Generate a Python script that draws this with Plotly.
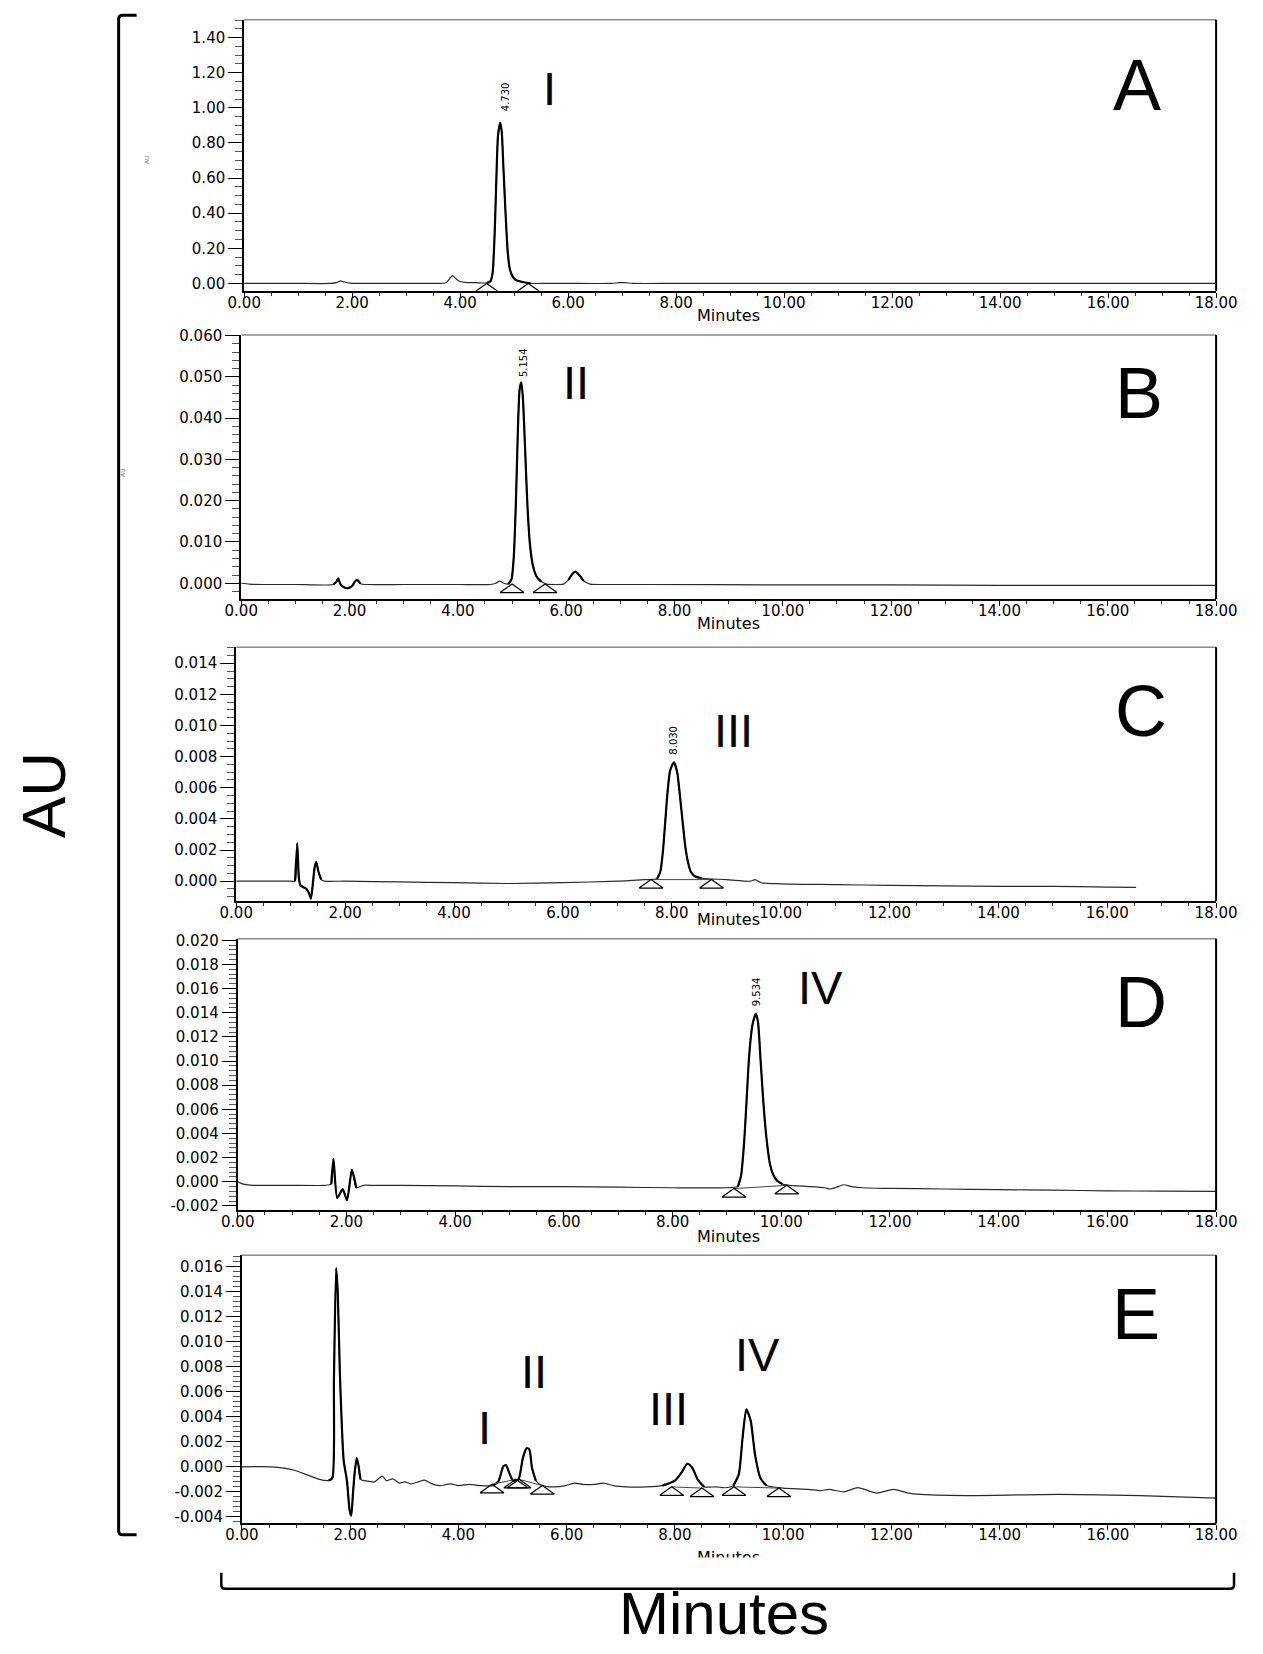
import numpy as np
import plotly.graph_objects as go

W, H = 1263, 1654

# ---------------- data (minutes, AU) ----------------
tA = [0.0, 0.5, 1.0, 1.6, 1.72, 1.78, 1.85, 1.95, 2.1, 2.5, 3.0, 3.5, 3.74, 3.81, 3.86, 3.91, 3.98, 4.08,
      4.3, 4.5, 4.56, 4.60, 4.64, 4.67, 4.70, 4.74, 4.77, 4.80, 4.84, 4.88, 4.92, 4.97, 5.02, 5.10, 5.20,
      5.30, 5.6, 6.0, 6.8, 6.95, 7.05, 7.2, 8.0, 10.0, 12.0, 14.0, 16.0, 18.0]
yA = [0.0, 0.0, 0.0, 0.0, 0.006, 0.014, 0.008, 0.002, 0.0, 0.0, 0.0, 0.0, 0.004, 0.03, 0.044, 0.03, 0.012,
      0.006, 0.004, 0.003, 0.012, 0.06, 0.30, 0.60, 0.84, 0.916, 0.86, 0.66, 0.40, 0.18, 0.08, 0.04, 0.022,
      0.012, 0.005, 0.0, 0.0, 0.0, 0.0, 0.004, 0.004, 0.0, 0.0, 0.0, 0.0, 0.0, 0.0, 0.0]

tB = [0.0, 0.15, 0.4, 1.0, 1.70, 1.76, 1.79, 1.83, 1.90, 1.97, 2.05, 2.10, 2.14, 2.20, 2.3, 3.0, 4.0, 4.6,
      4.70, 4.77, 4.85, 4.93, 4.99, 5.03, 5.07, 5.11, 5.14, 5.17, 5.20, 5.24, 5.28, 5.33, 5.39, 5.46, 5.54,
      5.64, 5.8, 5.95, 6.04, 6.11, 6.17, 6.24, 6.32, 6.44, 6.7, 7.5, 10.0, 12.0, 14.0, 16.0, 18.0]
yB = [0.0000, -0.0002, -0.0003, -0.0003, -0.0003, 0.0004, 0.0012, -0.0002, -0.0010, -0.0012, -0.0006,
      0.0004, 0.0008, -0.0001, -0.0003, -0.0003, -0.0003, -0.0003, 0.0000, 0.0005, 0.0000, -0.0002, 0.0010,
      0.0060, 0.0190, 0.0380, 0.0470, 0.0487, 0.0450, 0.0330, 0.0200, 0.0095, 0.0040, 0.0015, 0.0004,
      -0.0002, -0.0003, -0.0002, 0.0008, 0.0022, 0.0028, 0.0020, 0.0006, -0.0002, -0.0003, -0.0003,
      -0.0004, -0.0004, -0.0005, -0.0005, -0.0005]

tC = [0.0, 0.5, 1.0, 1.08, 1.12, 1.15, 1.18, 1.29, 1.34, 1.37, 1.40, 1.44, 1.47, 1.51, 1.56, 1.62, 2.0,
      3.0, 4.0, 5.0, 6.0, 7.0, 7.5, 7.73, 7.79, 7.84, 7.88, 7.92, 7.97, 8.04, 8.10, 8.15, 8.20, 8.25, 8.30,
      8.35, 8.43, 8.55, 8.68, 9.0, 9.35, 9.45, 9.53, 9.64, 10.0, 11.0, 12.0, 13.0, 14.0, 15.0, 16.0, 16.53]
yC = [0.0, 0.0, 0.0, 0.0, 0.00244, 0.0002, -0.00028, -0.0005, -0.0008, -0.00113, -0.0004, 0.0009,
      0.00122, 0.0006, 0.0001, 0.0, 0.0, -0.00005, -0.0001, -0.00015, -0.0001, 0.0, 0.0001, 0.00015,
      0.0006, 0.0020, 0.0038, 0.0056, 0.0071, 0.00764, 0.0070, 0.0055, 0.0038, 0.0022, 0.0012, 0.0006,
      0.0003, 0.0002, 0.00015, 0.0001, 0.0, 0.0, 0.0001, -0.0001, -0.00017, -0.00022, -0.00027, -0.0003,
      -0.00033, -0.00033, -0.00038, -0.0004]

tD = [0.0, 0.1, 0.3, 1.0, 1.6, 1.72, 1.76, 1.83, 1.93, 2.01, 2.10, 2.18, 2.31, 2.5, 3.0, 4.0, 5.0, 6.0,
      7.0, 8.0, 9.0, 9.20, 9.26, 9.32, 9.36, 9.41, 9.47, 9.53, 9.57, 9.62, 9.67, 9.73, 9.79, 9.85, 9.92,
      10.02, 10.15, 10.5, 10.8, 10.91, 11.05, 11.15, 11.3, 11.5, 12.0, 13.0, 14.0, 15.0, 16.0, 17.0, 18.0]
yD = [0.0, -0.0002, -0.0003, -0.0003, -0.0003, -0.0002, 0.0019, -0.00134, -0.00062, -0.00153, 0.0010,
      -0.0005, -0.0003, -0.0003, -0.0003, -0.00035, -0.0004, -0.0004, -0.00045, -0.0005, -0.0005, -0.0004,
      0.0005, 0.0035, 0.0066, 0.0105, 0.0130, 0.0139, 0.0133, 0.0100, 0.0066, 0.0035, 0.0015, 0.0006,
      0.0001, -0.0002, -0.0003, -0.0004, -0.0005, -0.0006, -0.0004, -0.00025, -0.0004, -0.0005, -0.00055,
      -0.0006, -0.00065, -0.0007, -0.00075, -0.00078, -0.0008]

tE = [0.0, 0.54, 0.97, 1.18, 1.43, 1.60, 1.67, 1.70, 1.74, 1.77, 1.81, 1.88, 1.94, 1.99, 2.02, 2.05, 2.08,
      2.12, 2.15, 2.19, 2.31, 2.45, 2.59, 2.67, 2.79, 2.91, 3.01, 3.12, 3.26, 3.37, 3.51, 3.65, 3.86, 4.0,
      4.21, 4.42, 4.64, 4.74, 4.83, 4.88, 4.94, 5.01, 5.11, 5.19, 5.26, 5.31, 5.36, 5.43, 5.55, 5.77, 5.98,
      6.15, 6.30, 6.51, 6.68, 6.86, 7.11, 7.46, 7.77, 8.0, 8.12, 8.23, 8.32, 8.42, 8.54, 8.77, 8.92, 9.08,
      9.18, 9.25, 9.32, 9.40, 9.48, 9.58, 9.69, 10.0, 10.46, 10.69, 10.85, 11.12, 11.38, 11.73, 12.04,
      12.31, 12.54, 13.54, 15.08, 16.6, 18.0]
yE = [0.0, 0.0, -0.00027, -0.0006, -0.0010, -0.0011, -0.0009, 0.0070, 0.0159, 0.0140, 0.0074, 0.0005,
      -0.0011, -0.0035, -0.0039, -0.0022, -0.0006, 0.0007, 0.0002, -0.0010, -0.00114, -0.0012, -0.00074,
      -0.0011, -0.00096, -0.0013, -0.0012, -0.00136, -0.0012, -0.00106, -0.00136, -0.0015, -0.00136,
      -0.0015, -0.0014, -0.0015, -0.0015, -0.00114, 0.00005, 0.00013, -0.0005, -0.0011, -0.0010, 0.0007,
      0.0015, 0.0014, -0.0001, -0.0011, -0.0015, -0.0016, -0.0015, -0.0013, -0.0014, -0.0014, -0.0013,
      -0.0015, -0.0016, -0.0016, -0.0015, -0.0011, -0.00047, 0.00025, -0.00007, -0.0010, -0.0016, -0.0016,
      -0.00167, -0.0015, -0.0006, 0.0023, 0.0046, 0.0037, 0.0010, -0.0009, -0.0015, -0.0017, -0.0018,
      -0.0019, -0.0018, -0.0020, -0.00167, -0.0021, -0.0018, -0.0021, -0.0022, -0.0023, -0.0022, -0.0023,
      -0.0025]

# integration markers (peak start / end) and baselines
markA_t = [4.49, 5.26];  markA_y = [0.0, 0.0]
markB_t = [5.00, 5.61];  markB_y = [-0.0002, -0.0002]
markC_t = [7.62, 8.73];  markC_y = [0.0001, 0.0001]
markD_t = [9.13, 10.10]; markD_y = [-0.00057, -0.0003]
markE_t = [4.62, 5.06, 5.12, 5.55, 7.94, 8.50, 9.09, 9.92]
markE_y = [-0.0014, -0.0010, -0.0010, -0.0015, -0.0016, -0.0017, -0.0016, -0.0017]
baseC = [(0, 1)]
baseD = [(0, 1)]
baseE = [(0, 1), (2, 3), (4, 5), (6, 7)]

# peak retention-time labels
peak_label = {"A": ("4.730", 4.74, 0.916), "B": ("5.154", 5.17, 0.0487),
              "C": ("8.030", 8.04, 0.00764), "D": ("9.534", 9.53, 0.0139)}

# tick labels
x_tick_vals = [0, 2, 4, 6, 8, 10, 12, 14, 16, 18]
x_tick_text = ["0.00", "2.00", "4.00", "6.00", "8.00", "10.00", "12.00", "14.00", "16.00", "18.00"]
yA_vals = [0.0, 0.2, 0.4, 0.6, 0.8, 1.0, 1.2, 1.4]
yA_text = ["0.00", "0.20", "0.40", "0.60", "0.80", "1.00", "1.20", "1.40"]
yB_vals = [0.0, 0.01, 0.02, 0.03, 0.04, 0.05, 0.06]
yB_text = ["0.000", "0.010", "0.020", "0.030", "0.040", "0.050", "0.060"]
yC_vals = [0.0, 0.002, 0.004, 0.006, 0.008, 0.010, 0.012, 0.014]
yC_text = ["0.000", "0.002", "0.004", "0.006", "0.008", "0.010", "0.012", "0.014"]
yD_vals = [-0.002, 0.0, 0.002, 0.004, 0.006, 0.008, 0.010, 0.012, 0.014, 0.016, 0.018, 0.020]
yD_text = ["-0.002", "0.000", "0.002", "0.004", "0.006", "0.008", "0.010", "0.012", "0.014", "0.016",
           "0.018", "0.020"]
yE_vals = [-0.004, -0.002, 0.0, 0.002, 0.004, 0.006, 0.008, 0.010, 0.012, 0.014, 0.016]
yE_text = ["-0.004", "-0.002", "0.000", "0.002", "0.004", "0.006", "0.008", "0.010", "0.012", "0.014",
           "0.016"]

# ---------------- layout geometry (pixels) ----------------
panels = [
    dict(key="A", t=tA, y=yA, left=245, right=1220, top=17.3, bottom=288.3, yr=[-0.0415, 1.501],
         yv=yA_vals, yt=yA_text, minor=0.05, mt=markA_t, my=markA_y, base=[],
         bold=[(4.50, 5.30)], title_y=313),
    dict(key="B", t=tB, y=yB, left=242, right=1220, top=332.7, bottom=596.7, yr=[-0.0038, 0.06015],
         yv=yB_vals, yt=yB_text, minor=0.002, mt=markB_t, my=markB_y, base=[],
         bold=[(1.70, 2.20), (4.93, 5.54), (6.04, 6.32)], title_y=621.5),
    dict(key="C", t=tC, y=yC, left=237, right=1220, top=645, bottom=899, yr=[-0.00128, 0.01503],
         yv=yC_vals, yt=yC_text, minor=0.0005, mt=markC_t, my=markC_y, base=baseC,
         bold=[(1.08, 1.56), (7.73, 8.55)], title_y=917),
    dict(key="D", t=tD, y=yD, left=238.5, right=1220, top=936.7, bottom=1208.3, yr=[-0.00236, 0.02013],
         yv=yD_vals, yt=yD_text, minor=0.0004, mt=markD_t, my=markD_y, base=baseD,
         bold=[(1.72, 2.18), (9.20, 10.02)], title_y=1235),
    dict(key="E", t=tE, y=yE, left=242.7, right=1220, top=1253.3, bottom=1521.7, yr=[-0.00453, 0.01694],
         yv=yE_vals, yt=yE_text, minor=0.0004, mt=markE_t, my=markE_y, base=baseE,
         bold=[(1.60, 2.19), (4.64, 5.43), (7.77, 8.54), (9.08, 9.69)], title_y=1556),
]

letter_pos = {"A": (1141, 82), "B": (1143, 391), "C": (1145, 709), "D": (1145, 1000), "E": (1140, 1312)}
roman = [("I", 551, 86), ("II", 578, 380), ("III", 736, 728), ("IV", 823, 985),
         ("I", 486, 1426), ("II", 536, 1370), ("III", 671, 1407), ("IV", 760, 1353)]
label_shift = {"A": (5, 9), "B": (3, 3), "C": (0, 6), "D": (1, 6)}


def X(x):
    # horizontal calibration of measured positions
    return -17.5 + 1.0277 * x


def Y(y):
    # vertical calibration of measured positions
    return -5.5 + 1.0074 * y


def pxf(x):
    return X(x) / W


def pyf(y):
    return 1 - Y(y) / H


fig = go.Figure()
layout = dict(width=W, height=H, margin=dict(l=0, r=0, t=0, b=0), paper_bgcolor="white",
              plot_bgcolor="white", showlegend=False)
shapes = []
annotations = []
tickfont = dict(family="DejaVu Sans", size=15, color="black")

for i, p in enumerate(panels):
    n = "" if i == 0 else str(i + 1)
    xa, ya = "x" + n, "y" + n
    lo, hi = p["yr"]
    minor_vals = [round(v, 6) for v in np.arange(np.floor(lo / p["minor"]) * p["minor"], hi, p["minor"])
                  if lo <= v <= hi]
    layout["xaxis" + n] = dict(
        domain=[pxf(p["left"]), pxf(p["right"])], range=[0, 18], anchor=ya,
        tickmode="array", tickvals=x_tick_vals, ticktext=x_tick_text,
        ticks="outside", ticklen=5, tickwidth=1.2, tickcolor="black", ticklabelstandoff=-8,
        showline=True, linecolor="black", linewidth=2, showgrid=False, zeroline=False,
        tickfont=tickfont, fixedrange=True,
        minor=dict(tickmode="array", tickvals=[v * 0.5 for v in range(37)], ticks="outside",
                   ticklen=3, tickwidth=1, tickcolor="#333", showgrid=False))
    layout["yaxis" + n] = dict(
        domain=[pyf(p["bottom"]), pyf(p["top"])], range=p["yr"], anchor=xa,
        tickmode="array", tickvals=p["yv"], ticktext=p["yt"],
        ticks="outside", ticklen=14, tickwidth=1.3, tickcolor="black",
        showline=True, linecolor="black", linewidth=2, showgrid=False, zeroline=False,
        tickfont=tickfont, fixedrange=True,
        minor=dict(tickmode="array", tickvals=minor_vals, ticks="outside", ticklen=7, tickwidth=1,
                   tickcolor="#555", showgrid=False))

    # top (grey) and right (black) frame lines
    shapes.append(dict(type="line", xref=xa + " domain", yref=ya + " domain", x0=0, x1=1, y0=1, y1=1,
                       line=dict(color="#8a8a8a", width=1.5)))
    shapes.append(dict(type="line", xref=xa + " domain", yref=ya + " domain", x0=1, x1=1, y0=0, y1=1,
                       line=dict(color="black", width=2)))

    # chromatogram trace
    fig.add_trace(go.Scatter(x=p["t"], y=p["y"], xaxis=xa, yaxis=ya, mode="lines",
                             line=dict(color="#2a2a2a", width=1.2, shape="spline", smoothing=0.6),
                             hoverinfo="skip"))
    for (a, b) in p["bold"]:
        sx = [t for t in p["t"] if a <= t <= b]
        sy = [v for t, v in zip(p["t"], p["y"]) if a <= t <= b]
        fig.add_trace(go.Scatter(x=sx, y=sy, xaxis=xa, yaxis=ya, mode="lines",
                                 line=dict(color="black", width=2.2, shape="spline", smoothing=0.6),
                                 hoverinfo="skip"))

    # integration baselines
    for (a, b) in p["base"]:
        fig.add_trace(go.Scatter(x=[p["mt"][a], p["mt"][b]], y=[p["my"][a], p["my"][b]], xaxis=xa,
                                 yaxis=ya, mode="lines", line=dict(color="#444", width=1),
                                 hoverinfo="skip"))

    # triangle markers (drawn as outlines, 24 px wide x 8.5 px high)
    hw = 12.0 * 18.0 / (p["right"] - p["left"])
    hh = 8.5 * (hi - lo) / (p["bottom"] - p["top"])
    txs, tys = [], []
    for t0, v0 in zip(p["mt"], p["my"]):
        txs += [t0 - hw, t0, t0 + hw, t0 - hw, None]
        tys += [v0 - hh, v0, v0 - hh, v0 - hh, None]
    fig.add_trace(go.Scatter(x=txs, y=tys, xaxis=xa, yaxis=ya, mode="lines",
                             line=dict(color="black", width=1.2), hoverinfo="skip"))

    # panel letter
    lx, ly = letter_pos[p["key"]]
    annotations.append(dict(text=p["key"], xref="paper", yref="paper", x=pxf(lx), y=pyf(ly),
                            xanchor="center", yanchor="middle", showarrow=False,
                            font=dict(family="Liberation Sans", size=72, color="black")))
    # small x-axis title
    annotations.append(dict(text="Minutes", xref="paper", yref="paper", x=pxf(731), y=pyf(p["title_y"]),
                            xanchor="center", yanchor="middle", showarrow=False,
                            font=dict(family="DejaVu Sans", size=16, color="black")))
    # retention-time label
    if p["key"] in peak_label:
        txt, pt, pv = peak_label[p["key"]]
        dx, dy = label_shift[p["key"]]
        annotations.append(dict(text=txt, xref=xa, yref=ya, x=pt, y=pv, xanchor="center",
                                yanchor="bottom", textangle=-90, showarrow=False, xshift=dx, yshift=dy,
                                font=dict(family="DejaVu Sans", size=10, color="black")))

# white band hiding the lower half of the last small "Minutes" (drawn after it)
annotations.append(dict(text=" ", xref="paper", yref="paper", x=pxf(731), y=pyf(1555),
                        xanchor="center", yanchor="top", showarrow=False, width=140, height=18,
                        bgcolor="white", borderpad=0, font=dict(size=10)))

for txt, x, y in roman:
    annotations.append(dict(text=txt, xref="paper", yref="paper", x=pxf(x), y=pyf(y), xanchor="center",
                            yanchor="middle", showarrow=False,
                            font=dict(family="Liberation Sans", size=47, color="black")))

# tiny instrument y-titles
for x, y in [(142, 151), (118, 464)]:
    annotations.append(dict(text="AU", xref="paper", yref="paper", x=pxf(x), y=pyf(y), textangle=-90,
                            showarrow=False, font=dict(family="DejaVu Sans", size=6, color="#777")))

# big axis titles
annotations.append(dict(text="AU", xref="paper", yref="paper", x=pxf(43), y=pyf(793), textangle=-90,
                        xanchor="center", yanchor="middle", showarrow=False,
                        font=dict(family="Liberation Sans", size=62, color="black")))
annotations.append(dict(text="Minutes", xref="paper", yref="paper", x=pxf(726), y=pyf(1612),
                        xanchor="center", yanchor="middle", showarrow=False,
                        font=dict(family="Liberation Sans", size=60, color="black")))


def path(points):
    s = ""
    for cmd, pts in points:
        s += cmd + " ".join("%.5f,%.5f" % (pxf(a), pyf(b)) for a, b in pts) + " "
    return s.strip()


left_bracket = path([("M", [(137, 12.7)]), ("L", [(123, 12.7)]), ("Q", [(119, 12.7), (119, 16.7)]),
                     ("L", [(119, 1529)]), ("Q", [(119, 1533), (123, 1533)]), ("L", [(137, 1533)])])
bottom_bracket = path([("M", [(222, 1571)]), ("L", [(222, 1583)]), ("Q", [(222, 1587), (226, 1587)]),
                       ("L", [(1234, 1587)]), ("Q", [(1238, 1587), (1238, 1583)]), ("L", [(1238, 1571)])])
shapes.append(dict(type="path", xref="paper", yref="paper", path=left_bracket,
                   line=dict(color="black", width=3)))
shapes.append(dict(type="path", xref="paper", yref="paper", path=bottom_bracket,
                   line=dict(color="black", width=2.5)))

layout["shapes"] = shapes
layout["annotations"] = annotations
fig.update_layout(**layout)
fig.write_html("out.html")
